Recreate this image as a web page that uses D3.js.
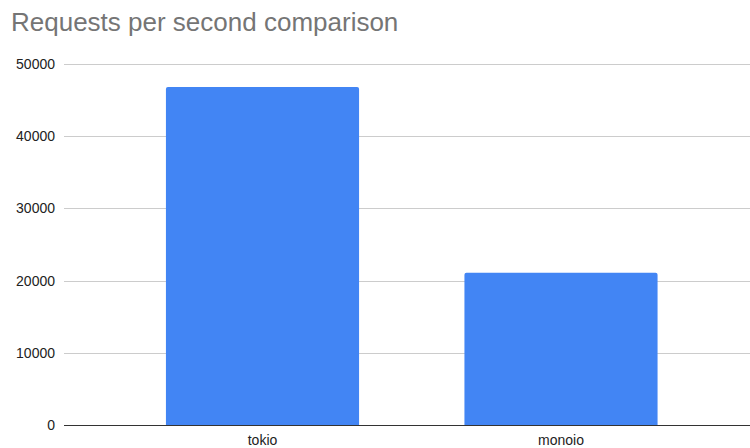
<!DOCTYPE html>
<html>
<head>
<meta charset="utf-8">
<script src="https://cdnjs.cloudflare.com/ajax/libs/d3/7.8.5/d3.min.js"></script>
<style>
  body { margin: 0; background: #fff; }
  svg { display: block; font-family: "Liberation Sans", Arial, sans-serif; }
</style>
</head>
<body>
<svg></svg>
<script>
var categories = ['tokio', 'monoio'];
var requests = [46800, 21100];
var yTicks = [0, 10000, 20000, 30000, 40000, 50000];

var width = 750;
var height = 448;
var plotLeft = 64, plotRight = 759.5, plotTop = 64, plotBottom = 425;

var svg = d3.select('svg')
            .attr('width', width)
            .attr('height', height);

var xScale = d3.scaleBand()
               .domain(categories)
               .range([plotLeft, plotRight])
               .paddingInner(0.353)
               .paddingOuter(0.3415);

var yScale = d3.scaleLinear()
               .domain([0, 50000])
               .range([plotBottom, plotTop]);

// grid lines
svg.append('g')
    .selectAll('line')
    .data(yTicks.filter(d => d > 0))
    .enter()
    .append('line')
      .attr('x1', plotLeft)
      .attr('x2', width)
      .attr('y1', d => Math.round(yScale(d)) + 0.5)
      .attr('y2', d => Math.round(yScale(d)) + 0.5)
      .attr('stroke', '#cccccc')
      .attr('stroke-width', 1);

// y tick labels
svg.append('g')
    .selectAll('text')
    .data(yTicks)
    .enter()
    .append('text')
      .attr('x', 55)
      .attr('y', d => yScale(d))
      .attr('dy', '0.35em')
      .attr('text-anchor', 'end')
      .style('font-size', '14px')
      .attr('fill', '#222')
      .text(d => d);

// bars with slightly rounded tops
svg.append('g')
    .selectAll('path')
    .data(requests)
    .enter()
    .append('path')
      .attr('fill', '#4285f4')
      .attr('d', function(d, i) {
        var x0 = xScale(categories[i]);
        var x1 = x0 + xScale.bandwidth();
        var y0 = yScale(d);
        var y1 = yScale(0);
        var r = 2;
        return 'M' + x0 + ',' + y1 +
               'V' + (y0 + r) +
               'Q' + x0 + ',' + y0 + ' ' + (x0 + r) + ',' + y0 +
               'H' + (x1 - r) +
               'Q' + x1 + ',' + y0 + ' ' + x1 + ',' + (y0 + r) +
               'V' + y1 + 'Z';
      });

// baseline
svg.append('line')
    .attr('x1', plotLeft)
    .attr('x2', width)
    .attr('y1', plotBottom + 0.5)
    .attr('y2', plotBottom + 0.5)
    .attr('stroke', '#333')
    .attr('stroke-width', 1);

// x labels
svg.append('g')
    .selectAll('text')
    .data(categories)
    .enter()
    .append('text')
      .attr('x', d => xScale(d) + xScale.bandwidth() / 2)
      .attr('y', 445)
      .attr('text-anchor', 'middle')
      .style('font-size', '14px')
      .attr('fill', '#222')
      .text(d => d);

// title
svg.append('text')
    .attr('x', 11)
    .attr('y', 31)
    .style('font-size', '26px')
    .attr('fill', '#757575')
    .text('Requests per second comparison');
</script>
</body>
</html>
